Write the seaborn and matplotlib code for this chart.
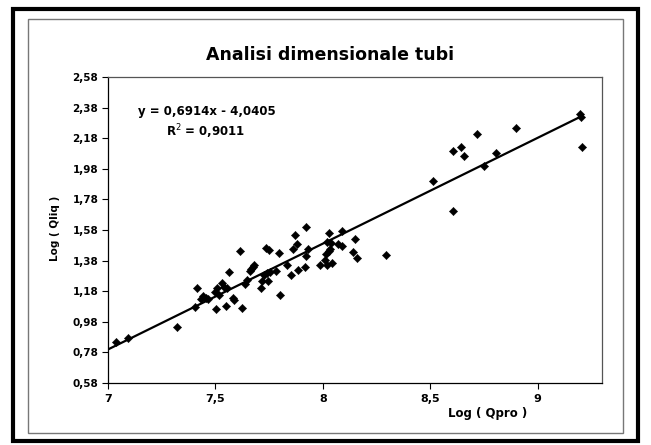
import numpy as np
import pandas as pd
import matplotlib
matplotlib.use("Agg")
import matplotlib.pyplot as plt
import seaborn as sns
from matplotlib.patches import Rectangle

# ---- data ----
log_qpro = [7.037, 7.091, 7.323, 7.407, 7.415, 7.434, 7.444, 7.454, 7.465, 7.503,
            7.500, 7.506, 7.515, 7.531, 7.542, 7.552, 7.549, 7.565, 7.580, 7.585,
            7.614, 7.623, 7.636, 7.645, 7.661, 7.667, 7.673, 7.679, 7.711, 7.716,
            7.728, 7.735, 7.742, 7.750, 7.747, 7.753, 7.784, 7.796, 7.799, 7.832,
            7.850, 7.861, 7.869, 7.881, 7.886, 7.917, 7.920, 7.923, 7.932, 7.989,
            8.009, 8.015, 8.018, 8.020, 8.028, 8.031, 8.035, 8.040, 8.043, 8.071,
            8.090, 8.090, 8.141, 8.151, 8.160, 8.293, 8.515, 8.608, 8.608, 8.645,
            8.657, 8.716, 8.750, 8.806, 8.901, 9.198, 9.200, 9.208]
log_qliq = [0.850, 0.872, 0.948, 1.078, 1.202, 1.132, 1.150, 1.137, 1.129, 1.061,
            1.176, 1.198, 1.158, 1.235, 1.209, 1.202, 1.085, 1.306, 1.137, 1.122,
            1.441, 1.072, 1.224, 1.252, 1.311, 1.328, 1.339, 1.350, 1.198, 1.246,
            1.285, 1.463, 1.300, 1.448, 1.246, 1.307, 1.311, 1.430, 1.155, 1.350,
            1.289, 1.458, 1.549, 1.491, 1.321, 1.339, 1.411, 1.600, 1.458, 1.354,
            1.383, 1.426, 1.502, 1.350, 1.441, 1.562, 1.458, 1.497, 1.367, 1.491,
            1.572, 1.474, 1.437, 1.523, 1.400, 1.415, 1.901, 2.097, 1.704, 2.121,
            2.062, 2.205, 2.001, 2.082, 2.244, 2.335, 2.318, 2.125]
trend_slope = 0.6914
trend_intercept = -4.0405
trend_x = [7.0, 9.2]
x_ticks = [7, 7.5, 8, 8.5, 9]
x_tick_labels = ["7", "7,5", "8", "8,5", "9"]
y_ticks = [0.58, 0.78, 0.98, 1.18, 1.38, 1.58, 1.78, 1.98, 2.18, 2.38, 2.58]
y_tick_labels = ["0,58", "0,78", "0,98", "1,18", "1,38", "1,58", "1,78",
                 "1,98", "2,18", "2,38", "2,58"]
title = "Analisi dimensionale tubi"
x_label = "Log ( Qpro )"
y_label = "Log ( Qliq )"
eq_text = "y = 0,6914x - 4,0405"
r2_text = "R$^2$ = 0,9011"

sns.set_theme(style="white")
plt.rcParams['font.family'] = ['DejaVu Sans']
plt.rcParams['text.color'] = 'black'
plt.rcParams['xtick.color'] = 'black'
plt.rcParams['ytick.color'] = 'black'

df = pd.DataFrame({"x": log_qpro, "y": log_qliq})
trend = pd.DataFrame({"x": trend_x,
                      "y": [trend_slope * v + trend_intercept for v in trend_x]})

fig = plt.figure(figsize=(6.51, 4.45), dpi=100)
fig.patch.set_facecolor("white")
ax = fig.add_axes([108/651, 1-383/445, (602-108)/651, (383-77)/445])

sns.lineplot(data=trend, x="x", y="y", ax=ax, color="black", linewidth=1.6, zorder=2)
sns.scatterplot(data=df, x="x", y="y", ax=ax, marker="D", s=18, color="black",
                edgecolor="black", linewidth=0.3, zorder=3)

ax.set_xlim(7, 9.3)
ax.set_ylim(0.58, 2.58)
ax.set_xticks(x_ticks)
ax.set_xticklabels(x_tick_labels, fontsize=8, fontweight="bold", color="black")
ax.set_yticks(y_ticks)
ax.set_yticklabels(y_tick_labels, fontsize=7.5, fontweight="bold", color="black")
ax.tick_params(axis="both", direction="out", length=4, width=0.8, color="black",
               bottom=True, left=True, pad=3)
ax.tick_params(axis="x", pad=4)
ax.set_xlabel("")
ax.set_ylabel("")
for s in ax.spines.values():
    s.set_color("#555555")
    s.set_linewidth(0.9)
ax.spines["left"].set_color("black")
ax.spines["bottom"].set_color("black")
ax.grid(False)

fig.text(330/651, 1-55/445, title, ha="center", va="center", fontsize=12.5,
         fontweight="bold", color="black")
fig.text(488/651, 1-414/445, x_label, ha="center", va="center", fontsize=8.5,
         fontweight="bold", color="black")
fig.text(55/651, 1-228/445, y_label, ha="center", va="center", fontsize=7.5,
         fontweight="bold", rotation=90, color="black")
fig.text(207/651, 1-112/445, eq_text, ha="center", va="center", fontsize=8.5,
         fontweight="bold", color="black")
fig.text(206/651, 1-132/445, r2_text, ha="center", va="center", fontsize=8.5,
         fontweight="bold", color="black")

# chart frame (inner thin border and outer thick border)
fig.patches.append(Rectangle((28/651, 1-433/445), 595/651, 414/445,
                             transform=fig.transFigure, fill=False,
                             edgecolor="#777777", linewidth=1.0))
fig.patches.append(Rectangle((13/651, 1-441/445), 625/651, 432/445,
                             transform=fig.transFigure, fill=False,
                             edgecolor="black", linewidth=3.0))

fig.savefig("out.png", dpi=100, facecolor="white")
